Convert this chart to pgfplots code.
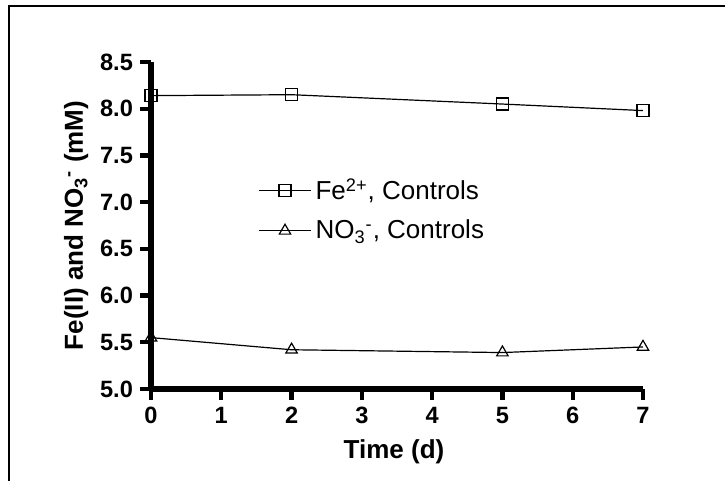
\documentclass[border=0pt]{standalone}
\usepackage{fontspec}
\setmainfont{Liberation Sans}
\usepackage{pgfplots}
\pgfplotsset{compat=1.18}

\begin{document}
\begin{tikzpicture}
\useasboundingbox (0,0) rectangle (362.5pt,240.5pt);
% frame (cropped on right and bottom)
\draw[line width=0.6pt] (4.5pt,0) -- (4.5pt,237.5pt);
\draw[line width=1.1pt] (4.2pt,237.5pt) -- (362.5pt,237.5pt);
\begin{axis}[
  at={(75.5pt,46pt)}, anchor=south west,
  scale only axis, width=246pt, height=163.5pt,
  xmin=0, xmax=7, ymin=5, ymax=8.5,
  xtick={0,1,...,7}, ytick={5,5.5,6,6.5,7,7.5,8,8.5},
  axis x line=bottom, axis y line=left,
  axis line style={-, line width=2.8pt},
  tick align=outside, major tick length=5.5pt,
  every tick/.style={black, line width=2.2pt},
  /pgf/number format/assume math mode=true,
  tick label style={font=\fontsize{11.8}{14}\selectfont\bfseries},
  yticklabel style={/pgf/number format/.cd, fixed, fixed zerofill, precision=1},
  label style={font=\fontsize{13}{15.5}\selectfont\bfseries},
  xlabel={Time (d)},
  ylabel={Fe(II) and NO\textsubscript{3}\textsuperscript{-} (mM)},
  xlabel style={at={(axis description cs:0.494,-0.193)}, anchor=center},
  ylabel style={at={(axis description cs:-0.152,0.5)}, anchor=center},
  clip=false,
  legend style={at={(0.2175,0.547)}, anchor=west, draw=none, fill=none,
    font=\fontsize{13}{15.5}\selectfont, row sep=4.5pt, inner sep=0pt},
  legend cell align=left,
  legend image code/.code={\draw[mark repeat=2,mark phase=2] plot coordinates {(0pt,0pt)(13pt,0pt)(26pt,0pt)};},
]
  % Fe2+ controls
  \addplot[black, line width=0.6pt, mark=square, mark size=3pt,
    mark options={solid, line width=0.6pt}] coordinates {
    (0,8.14) (2,8.15) (5,8.05) (7,7.98)
  };
  \addlegendentry{Fe\textsuperscript{2+}, Controls}

  % NO3- controls
  \addplot[black, line width=0.6pt, mark=triangle, mark size=3.3pt,
    mark options={solid, line width=0.6pt}] coordinates {
    (0,5.55) (2,5.42) (5,5.39) (7,5.45)
  };
  \addlegendentry{NO\textsubscript{3}\textsuperscript{-}, Controls}
\end{axis}
\end{tikzpicture}
\end{document}
